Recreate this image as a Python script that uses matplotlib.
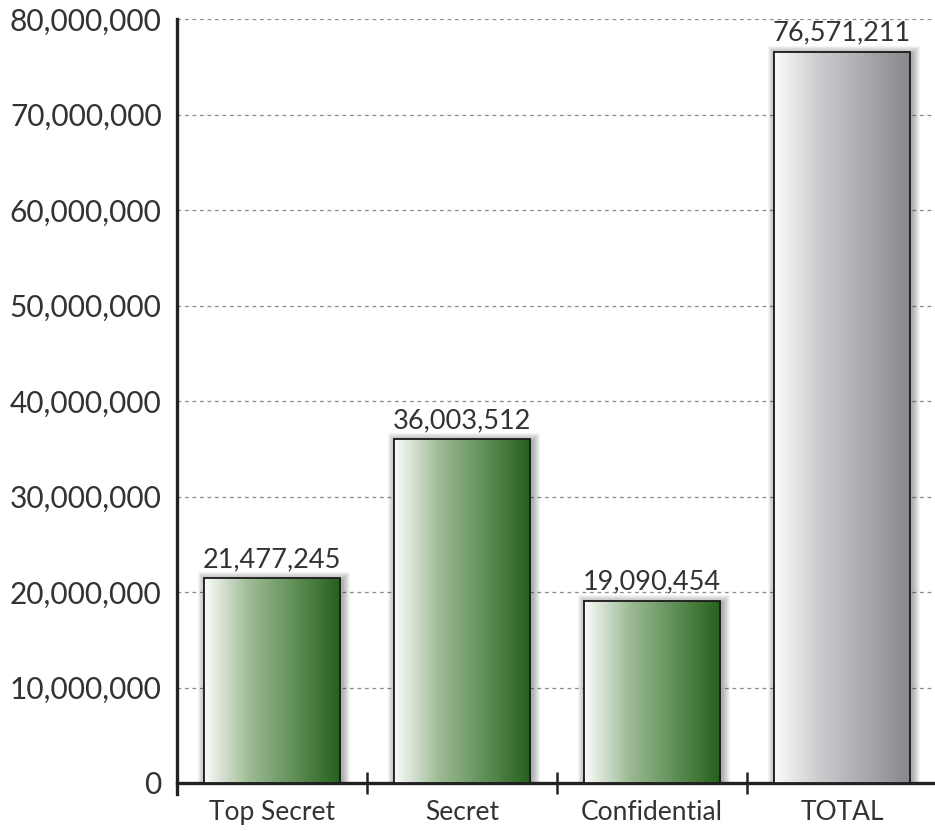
import numpy as np
import matplotlib
matplotlib.use("Agg")
import matplotlib.pyplot as plt
from matplotlib.patches import Rectangle
from matplotlib.colors import LinearSegmentedColormap
from matplotlib.ticker import FuncFormatter

categories = ["Top Secret", "Secret", "Confidential", "TOTAL"]
values = [21477245, 36003512, 19090454, 76571211]
value_labels = ["21,477,245", "36,003,512", "19,090,454", "76,571,211"]
yticks = [0, 10000000, 20000000, 30000000, 40000000, 50000000, 60000000, 70000000, 80000000]

plt.rcParams['font.family'] = ['Lato', 'DejaVu Sans']
text_color = "#333333"

fig = plt.figure(figsize=(9.35, 8.31), dpi=100)
ax = fig.add_axes([177/935, 48/831, 760/935, 764/831])

green = LinearSegmentedColormap.from_list("g", ["#fbfcfb", "#9dba94", "#5f8f55", "#245f1c"])
gray = LinearSegmentedColormap.from_list("k", ["#fbfbfb", "#cacbcd", "#a9aaae", "#86878b"])

ax.set_xlim(-0.5, 3.5)
ax.set_ylim(0, 80000000)

width = 0.72
bars = ax.bar(range(len(values)), values, width=width, color="none", edgecolor="#1a1a1a", linewidth=1.3, zorder=4)

xpp = 4 / 760.0
ypp = 80000000 / 764.0
grad = np.linspace(0, 1, 256).reshape(1, -1)
for i, (b, v) in enumerate(zip(bars, values)):
    x0 = b.get_x(); w = b.get_width(); h = b.get_height()
    for k in range(1, 9):
        pad = k * 1.0
        sh = Rectangle((x0 - pad * xpp + 2 * xpp, -pad * ypp), w + 2 * pad * xpp, h + 2 * pad * ypp - 2 * ypp,
                       facecolor="black", edgecolor="none", alpha=0.045, zorder=2)
        ax.add_patch(sh)
    cmap = gray if i == 3 else green
    im = ax.imshow(grad, cmap=cmap, aspect="auto", extent=(x0, x0 + w, 0, h), zorder=3, interpolation="bicubic")
    clip = Rectangle((x0, 0), w, h, transform=ax.transData)
    im.set_clip_path(clip)
    ax.text(x0 + w / 2, h + 6 * ypp, value_labels[i], ha="center", va="bottom", fontsize=19.5,
            color=text_color, zorder=5)

ax.set_xlim(-0.5, 3.5)
ax.set_ylim(0, 80000000)

ax.set_yticks(yticks)
ax.yaxis.set_major_formatter(FuncFormatter(lambda v, p: f"{int(v):,}"))
ax.yaxis.grid(True, color="#8a8a8a", linestyle=(0, (3, 3)), linewidth=0.9)
ax.set_axisbelow(True)
ax.tick_params(axis="y", length=0, pad=11, labelsize=21.5, labelcolor=text_color)

ax.set_xticks([0.5, 1.5, 2.5])
ax.set_xticklabels([])
ax.set_xticks([0, 1, 2, 3], minor=True)
ax.set_xticklabels(categories, minor=True)
ax.tick_params(axis="x", which="major", direction="inout", length=16, width=1.8, color="#222222")
ax.tick_params(axis="x", which="minor", length=0, pad=12, labelsize=19, labelcolor=text_color)

for s in ["top", "right"]:
    ax.spines[s].set_visible(False)
ax.spines["left"].set_linewidth(2.4)
ax.spines["bottom"].set_linewidth(2.4)
ax.spines["left"].set_color("#222222")
ax.spines["bottom"].set_color("#222222")
ax.spines["left"].set_bounds(-1200000, 80000000)

fig.savefig("out.png", dpi=100, facecolor="white")
